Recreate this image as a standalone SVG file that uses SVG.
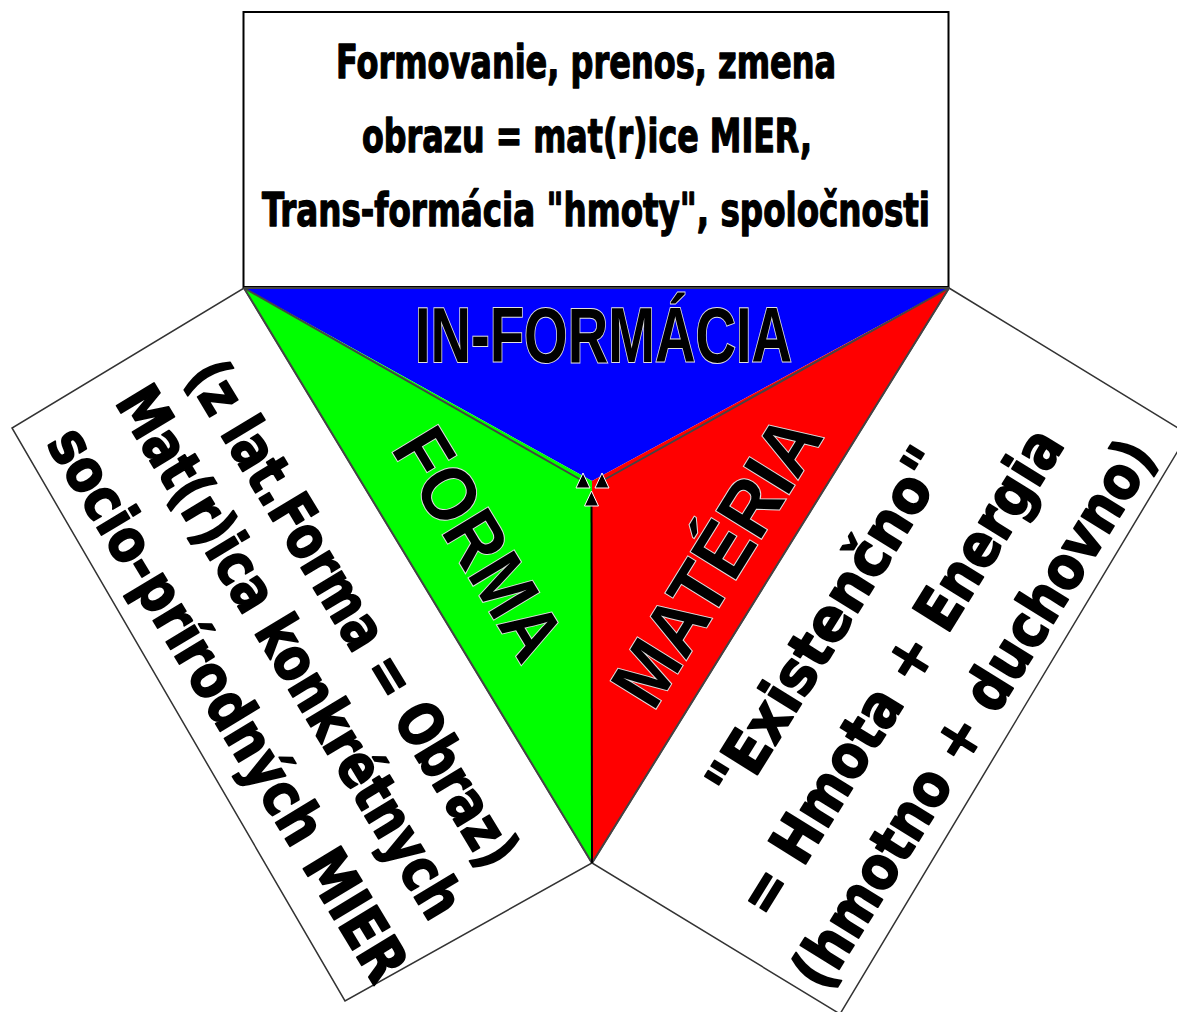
<svg xmlns="http://www.w3.org/2000/svg" width="1177" height="1012" viewBox="0 0 1177 1012">
<style>
.box{fill:#fff;stroke:#333;stroke-width:1.5}
.tbox{fill:#fff;stroke:#000;stroke-width:2}
.txt{font-family:"DejaVu Sans Condensed","DejaVu Sans",sans-serif;font-weight:bold;fill:#000;stroke:#000;stroke-width:1.3;stroke-linejoin:round}
.side{stroke-width:1.8}
.lab{font-family:"Liberation Sans",Arial,sans-serif;font-weight:bold;fill:#000;stroke:#e0e0e0;stroke-width:2;paint-order:stroke}
.edge{stroke:#444;stroke-width:2;fill:none}
.vline{stroke:#000;stroke-width:2;fill:none}
</style>
<defs>
<marker id="tri" markerUnits="userSpaceOnUse" markerWidth="20" markerHeight="20" viewBox="-10 -10 20 20" refX="0" refY="0" orient="0" overflow="visible">
<path d="M0,-8 L7,7 L-7,7 Z" fill="#000" stroke="#fff" stroke-width="1"/>
</marker>
</defs>
<g id="top-box">
<rect class="tbox" x="243.5" y="12" width="705" height="275"/>
<text class="txt" font-size="47" x="336" y="78" textLength="500" lengthAdjust="spacingAndGlyphs">Formovanie, prenos, zmena</text>
<text class="txt" font-size="47" x="362" y="152" textLength="450" lengthAdjust="spacingAndGlyphs">obrazu = mat(r)ice MIER,</text>
<text class="txt" font-size="47" x="262" y="226" textLength="668" lengthAdjust="spacingAndGlyphs">Trans-formácia "hmoty", spoločnosti</text>
</g>
<g id="left-box">
<polygon class="box" points="244,288 592,863 345,1001 12,428"/>
<g transform="translate(244,288) rotate(58.8)">
<text class="txt side" font-size="60" x="45" y="96" textLength="580" lengthAdjust="spacingAndGlyphs">(z lat.Forma = Obraz)</text>
<text class="txt side" font-size="60" x="30" y="170" textLength="610" lengthAdjust="spacingAndGlyphs">Mat(r)ica konkrétnych</text>
<text class="txt side" font-size="60" x="30" y="250" textLength="635" lengthAdjust="spacingAndGlyphs">socio-prírodných MIER</text>
</g>
</g>
<g id="right-box">
<polygon class="box" points="949,288 1188,434 840,1014 592,863"/>
<g transform="translate(592,863) rotate(-58.2)">
<text class="txt side" font-size="60" x="128" y="94" textLength="400" lengthAdjust="spacingAndGlyphs">"Existenčno"</text>
<text class="txt side" font-size="60" x="45" y="182" textLength="560" lengthAdjust="spacingAndGlyphs">= Hmota + Energia</text>
<text class="txt side" font-size="60" x="12" y="266" textLength="632" lengthAdjust="spacingAndGlyphs">(hmotno + duchovno)</text>
</g>
</g>
<g id="informacia">
<polygon points="244,288 949,288 592,481" fill="#0000ff"/>
<text class="lab" font-size="77" x="415" y="362" textLength="377" lengthAdjust="spacingAndGlyphs">IN-FORMÁCIA</text>
</g>
<g id="forma">
<polygon points="244,288 592,481 592,863" fill="#00ff00"/>
<text class="lab" font-size="77" transform="translate(244,288) rotate(58.8)" x="213" y="-42" textLength="255" lengthAdjust="spacingAndGlyphs">FORMA</text>
</g>
<g id="materia">
<polygon points="949,288 592,481 592,863" fill="#ff0000"/>
<text class="lab" font-size="77" transform="translate(592,863) rotate(-58.2)" x="160" y="-27" textLength="325" lengthAdjust="spacingAndGlyphs">MATÉRIA</text>
</g>
<g id="connectors">
<line class="edge" x1="244" y1="288" x2="949" y2="288"/>
<line class="edge" x1="244" y1="288" x2="592" y2="863"/>
<line class="edge" x1="949" y1="288" x2="592" y2="863"/>
<line class="edge" x1="244" y1="288" x2="583" y2="481" marker-end="url(#tri)"/>
<line class="edge" x1="949" y1="288" x2="602" y2="481" marker-end="url(#tri)"/>
<line class="vline" x1="592" y1="863" x2="591.5" y2="499" marker-end="url(#tri)"/>
</g>
</svg>
